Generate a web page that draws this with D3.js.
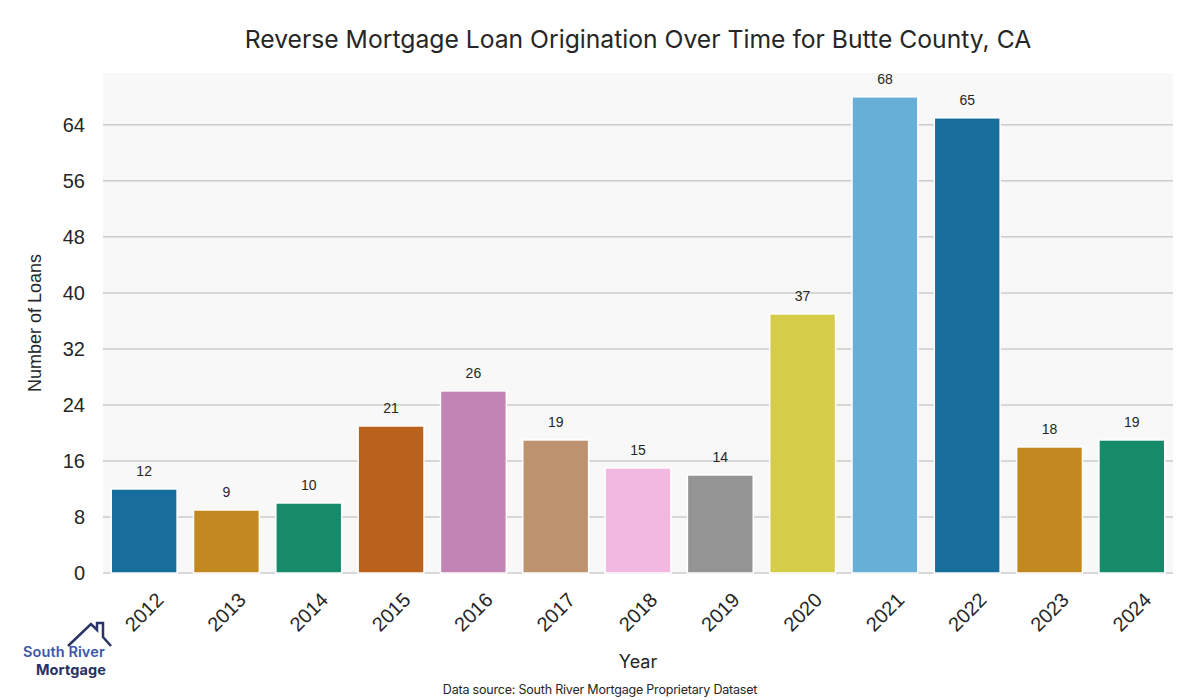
<!DOCTYPE html>
<html><head><meta charset="utf-8">
<script src="https://cdn.jsdelivr.net/npm/d3@7"></script>
<style>body{margin:0;background:#fff}</style>
</head><body>
<svg id="c" width="1200" height="700"></svg>
<script>
const years = ["2012","2013","2014","2015","2016","2017","2018","2019","2020","2021","2022","2023","2024"];
const loans = [12,9,10,21,26,19,15,14,37,68,65,18,19];
const yTicks = [0,8,16,24,32,40,48,56,64];
const palette = ["#0173b2","#de8f05","#029e73","#d55e00","#cc78bc","#ca9161","#fbafe4","#949494","#ece133","#56b4e9"];

const svg = d3.select("#c");
const m = {l:103, r:1173, t:73, b:573};
const x = d3.scaleBand().domain(years).range([m.l, m.r]).paddingInner(0.2).paddingOuter(0.1);
const y = d3.scaleLinear().domain([0, 68*1.05]).range([m.b, m.t]);
const col = i => { const h = d3.hsl(palette[i % palette.length]); h.s *= 0.75; return h.formatHex(); };

svg.append("rect").attr("x", m.l).attr("y", m.t).attr("width", m.r-m.l).attr("height", m.b-m.t).attr("fill", "#f8f8f8");

svg.append("g").selectAll("line").data(yTicks).join("line")
  .attr("x1", m.l).attr("x2", m.r).attr("y1", d=>y(d)).attr("y2", d=>y(d))
  .attr("stroke", "#cccccc").attr("stroke-width", 1.5);

svg.append("g").selectAll("text").data(yTicks).join("text")
  .attr("x", 85).attr("y", d=>y(d)).attr("dy", "0.35em").attr("text-anchor", "end")
  .attr("font-family", "Liberation Sans, Arial, sans-serif").attr("font-size", 20).attr("fill", "#262626")
  .text(d=>d);

svg.append("g").selectAll("rect").data(loans).join("rect")
  .attr("x", (d,i)=>x(years[i])).attr("width", x.bandwidth())
  .attr("y", d=>y(d)).attr("height", d=>y(0)-y(d))
  .attr("fill", (d,i)=>col(i)).attr("stroke", "#fff").attr("stroke-width", 1.5);

svg.append("g").selectAll("text").data(loans).join("text")
  .attr("x", (d,i)=>x(years[i])+x.bandwidth()/2).attr("y", d=>y(d)-13)
  .attr("text-anchor", "middle")
  .attr("font-family", "Liberation Sans, Arial, sans-serif").attr("font-size", 14).attr("fill", "#262626")
  .text(d=>d);

svg.append("g").selectAll("text").data(years).join("text")
  .attr("transform", d=>`translate(${x(d)+x.bandwidth()/2},${612}) rotate(-45)`)
  .attr("text-anchor", "middle").attr("dy", "0.35em")
  .attr("font-family", "Liberation Sans, Arial, sans-serif").attr("font-size", 20).attr("fill", "#262626")
  .text(d=>d);

svg.append("text").attr("x", 638).attr("y", 48).attr("text-anchor", "middle")
  .attr("font-family", "Inter, sans-serif").attr("font-size", 24.7).attr("fill", "#262626")
  .text("Reverse Mortgage Loan Origination Over Time for Butte County, CA");

svg.append("text").attr("transform", "translate(41,323) rotate(-90)").attr("text-anchor", "middle")
  .attr("font-family", "Liberation Sans, Arial, sans-serif").attr("font-size", 18).attr("fill", "#262626")
  .text("Number of Loans");

svg.append("text").attr("x", 638).attr("y", 668).attr("text-anchor", "middle")
  .attr("font-family", "Inter, sans-serif").attr("font-size", 18).attr("fill", "#262626")
  .text("Year");

svg.append("text").attr("x", 600).attr("y", 694).attr("text-anchor", "middle")
  .attr("font-family", "Inter, sans-serif").attr("font-size", 12.5).attr("fill", "#262626").attr("letter-spacing", "-0.2")
  .text("Data source: South River Mortgage Proprietary Dataset");

// logo
const lg = svg.append("g");
lg.append("path").attr("d", "M68,646 L91,624 L97,630 L97,623 L103,623 L103,637 L111,646")
  .attr("fill", "none").attr("stroke", "#2a3566").attr("stroke-width", 2.5).attr("stroke-linejoin", "miter");
lg.append("text").attr("x", 23).attr("y", 657).attr("font-family", "Inter, sans-serif").attr("font-weight", 600)
  .attr("font-size", 14.5).attr("fill", "#3b57a8").attr("letter-spacing", "0.1").text("South River");
lg.append("text").attr("x", 36).attr("y", 675).attr("font-family", "Inter, sans-serif").attr("font-weight", 700)
  .attr("font-size", 14.5).attr("fill", "#273163").attr("letter-spacing", "0.1").text("Mortgage");
</script>
</body></html>
